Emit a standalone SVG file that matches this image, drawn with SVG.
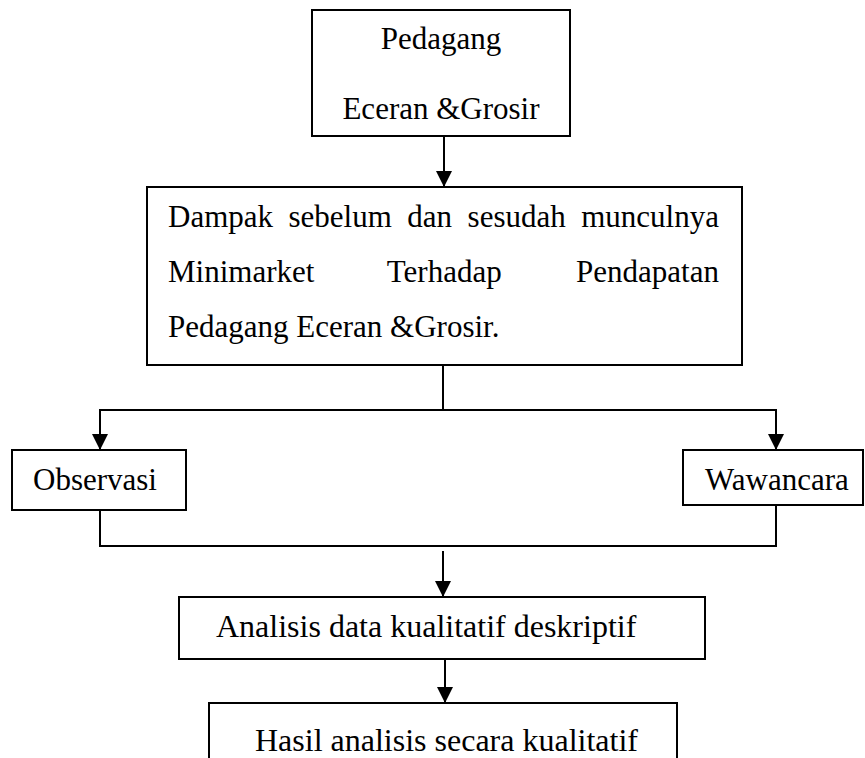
<svg xmlns="http://www.w3.org/2000/svg" width="865" height="758" viewBox="0 0 865 758">
<style>
.box{fill:#fff;stroke:#000;stroke-width:2}
.t{font-family:"Liberation Serif","Times New Roman",serif;font-size:31px;fill:#000}
.tb{font-family:"Liberation Serif","Times New Roman",serif;font-size:32px;fill:#000}
.c{fill:none;stroke:#000;stroke-width:2}
.ca{fill:none;stroke:#000;stroke-width:2;marker-end:url(#ah)}
</style>
<defs>
<marker id="ah" markerUnits="userSpaceOnUse" markerWidth="16" markerHeight="16" viewBox="0 0 16 16" refX="16" refY="8" orient="auto">
<path d="M0,0 L16,8 L0,16 z" fill="#000"/>
</marker>
</defs>
<rect width="865" height="758" fill="#fff"/>
<g id="connectors">
<path class="ca" d="M444,136 V187"/>
<path class="c" d="M443,366 V410"/>
<path class="ca" d="M443,410 H100 V450"/>
<path class="ca" d="M443,410 H776 V450"/>
<path class="c" d="M100,510 V546 H776 V505"/>
<path class="ca" d="M443,551 V597"/>
<path class="ca" d="M445,659 V703"/>
</g>
<g id="pedagang">
<rect class="box" x="312" y="10" width="258" height="126"/>
<text class="t" x="441" y="49" text-anchor="middle">Pedagang</text>
<text class="t" x="441" y="119" text-anchor="middle">Eceran &amp;Grosir</text>
</g>
<g id="dampak">
<rect class="box" x="147" y="187" width="595" height="178"/>
<text class="t" y="227"><tspan x="168">Dampak</tspan><tspan x="288.5">sebelum</tspan><tspan x="407.3">dan</tspan><tspan x="467.6">sesudah</tspan><tspan x="581.2">munculnya</tspan></text>
<text class="t" y="282"><tspan x="168">Minimarket</tspan><tspan x="386.8">Terhadap</tspan><tspan x="576.1">Pendapatan</tspan></text>
<text class="t" x="168" y="337">Pedagang Eceran &amp;Grosir.</text>
</g>
<g id="observasi">
<rect class="box" x="12" y="450" width="174" height="60"/>
<text class="t" x="33" y="490">Observasi</text>
</g>
<g id="wawancara">
<rect class="box" x="683" y="450" width="180" height="55"/>
<text class="t" x="705" y="490">Wawancara</text>
</g>
<g id="analisis">
<rect class="box" x="179" y="597" width="526" height="62"/>
<text class="tb" x="216" y="637">Analisis data kualitatif deskriptif</text>
</g>
<g id="hasil">
<rect class="box" x="209" y="703" width="468" height="70"/>
<text class="tb" x="255" y="751">Hasil analisis secara kualitatif</text>
</g>
</svg>
